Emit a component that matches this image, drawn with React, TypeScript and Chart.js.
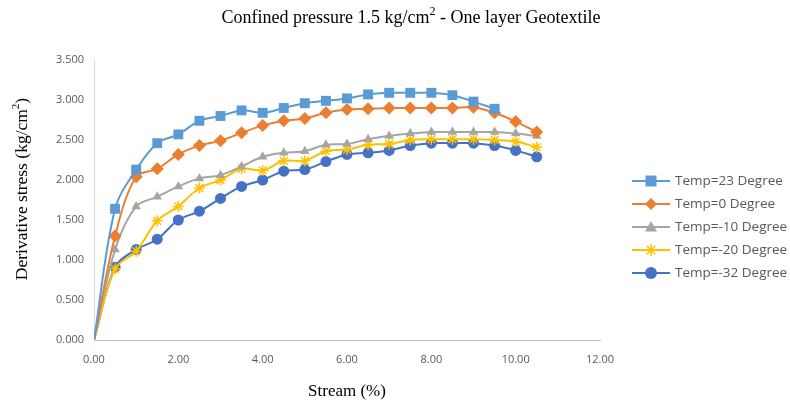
import React, { useEffect, useRef } from "react";
import { Chart, registerables } from "chart.js";

Chart.register(...registerables);

// Strain (%) values
const strain = [0, 0.5, 1, 1.5, 2, 2.5, 3, 3.5, 4, 4.5, 5, 5.5, 6, 6.5, 7, 7.5, 8, 8.5, 9, 9.5, 10, 10.5];

// Derivative stress (kg/cm2)
const temp23 = [0, 1.64, 2.13, 2.46, 2.57, 2.74, 2.8, 2.87, 2.84, 2.9, 2.96, 2.99, 3.02, 3.07, 3.09, 3.09, 3.09, 3.06, 2.98, 2.89];
const temp0 = [0, 1.3, 2.04, 2.14, 2.32, 2.43, 2.49, 2.59, 2.68, 2.74, 2.77, 2.84, 2.88, 2.89, 2.9, 2.9, 2.9, 2.9, 2.91, 2.84, 2.73, 2.6];
const tempM10 = [0, 1.13, 1.67, 1.79, 1.92, 2.02, 2.06, 2.17, 2.29, 2.34, 2.36, 2.44, 2.45, 2.51, 2.55, 2.58, 2.6, 2.6, 2.6, 2.6, 2.58, 2.55];
const tempM20 = [0, 0.89, 1.11, 1.49, 1.67, 1.9, 2.0, 2.14, 2.12, 2.24, 2.24, 2.36, 2.38, 2.44, 2.45, 2.5, 2.51, 2.51, 2.51, 2.5, 2.48, 2.41];
const tempM32 = [0, 0.91, 1.13, 1.26, 1.5, 1.61, 1.77, 1.92, 2.0, 2.11, 2.13, 2.23, 2.32, 2.34, 2.37, 2.43, 2.46, 2.46, 2.46, 2.43, 2.37, 2.29];

const seriesLabels = ["Temp=23 Degree", "Temp=0 Degree", "Temp=-10 Degree", "Temp=-20 Degree", "Temp=-32 Degree"];
const seriesValues = [temp23, temp0, tempM10, tempM20, tempM32];
const seriesColors = ["#5B9BD5", "#ED7D31", "#A5A5A5", "#FFC000", "#4472C4"];
const seriesMarkers = ["rect", "rectRot", "triangle", "star", "circle"];
const pointRadius = [7, 6.5, 5.5, 5.5, 5.5];
const legendRadius = [5.5, 6, 6, 6, 6];

const yTickValues = [0, 0.5, 1, 1.5, 2, 2.5, 3, 3.5];
const xTickValues = [0, 2, 4, 6, 8, 10, 12];

const TITLE_A = "Confined pressure 1.5 kg/cm";
const TITLE_B = " - One layer Geotextile";
const YTITLE_A = "Derivative stress (kg/cm";
const YTITLE_B = ")";
const XTITLE = "Stream (%)";

const SERIF = '"Liberation Serif", "Times New Roman", serif';
const SANS = '"Open Sans", sans-serif';
const TEXT_GRAY = "#595959";

function drawSup(ctx: CanvasRenderingContext2D, a: string, sup: string, b: string, cx: number, cy: number, size: number) {
  const mainFont = `${size}px ${SERIF}`;
  const supFont = `${Math.round(size * 0.65)}px ${SERIF}`;
  ctx.font = mainFont;
  const wa = ctx.measureText(a).width;
  const wb = ctx.measureText(b).width;
  ctx.font = supFont;
  const ws = ctx.measureText(sup).width;
  let x = cx - (wa + ws + wb) / 2;
  ctx.textBaseline = "middle";
  ctx.textAlign = "left";
  ctx.font = mainFont;
  ctx.fillText(a, x, cy);
  x += wa;
  ctx.font = supFont;
  ctx.fillText(sup, x, cy - size * 0.33);
  x += ws;
  ctx.font = mainFont;
  ctx.fillText(b, x, cy);
}

function drawMarker(ctx: CanvasRenderingContext2D, style: string, x: number, y: number, r: number, color: string) {
  ctx.save();
  ctx.fillStyle = color;
  ctx.strokeStyle = color;
  ctx.lineWidth = 1.5;
  ctx.beginPath();
  if (style === "rect") {
    ctx.rect(x - r, y - r, 2 * r, 2 * r);
    ctx.fill();
  } else if (style === "rectRot") {
    ctx.moveTo(x, y - r);
    ctx.lineTo(x + r, y);
    ctx.lineTo(x, y + r);
    ctx.lineTo(x - r, y);
    ctx.closePath();
    ctx.fill();
  } else if (style === "triangle") {
    ctx.moveTo(x, y - r);
    ctx.lineTo(x + r, y + r * 0.75);
    ctx.lineTo(x - r, y + r * 0.75);
    ctx.closePath();
    ctx.fill();
  } else if (style === "star") {
    for (let i = 0; i < 4; i++) {
      const ang = (Math.PI / 4) * i;
      ctx.moveTo(x + Math.sin(ang) * r, y - Math.cos(ang) * r);
      ctx.lineTo(x - Math.sin(ang) * r, y + Math.cos(ang) * r);
    }
    ctx.stroke();
  } else {
    ctx.arc(x, y, r, 0, Math.PI * 2);
    ctx.fill();
  }
  ctx.restore();
}

const textPlugin = {
  id: "textPlugin",
  afterDraw(chart: any) {
    const ctx: CanvasRenderingContext2D = chart.ctx;
    ctx.save();
    ctx.fillStyle = "#000000";
    drawSup(ctx, TITLE_A, "2", TITLE_B, 411, 18, 18);

    // x title
    ctx.font = `17px ${SERIF}`;
    ctx.textAlign = "center";
    ctx.textBaseline = "middle";
    ctx.fillText(XTITLE, (chart.chartArea.left + chart.chartArea.right) / 2, 392);

    // y title
    ctx.save();
    ctx.translate(22, 189);
    ctx.rotate(-Math.PI / 2);
    drawSup(ctx, YTITLE_A, "2", YTITLE_B, 0, 0, 17.5);
    ctx.restore();

    // legend
    const rows = [181, 204, 227, 250, 273];
    seriesLabels.forEach((label, i) => {
      const y = rows[i];
      ctx.strokeStyle = seriesColors[i];
      ctx.lineWidth = 2;
      ctx.beginPath();
      ctx.moveTo(632, y);
      ctx.lineTo(670, y);
      ctx.stroke();
      drawMarker(ctx, seriesMarkers[i], 651, y, legendRadius[i], seriesColors[i]);
      ctx.fillStyle = TEXT_GRAY;
      ctx.font = `13.5px ${SANS}`;
      ctx.textAlign = "left";
      ctx.textBaseline = "middle";
      ctx.fillText(label, 675, y);
    });
    ctx.restore();
  },
};

export default function App() {
  const canvasRef = useRef<HTMLCanvasElement | null>(null);

  useEffect(() => {
    if (!canvasRef.current) return;
    const datasets = seriesLabels.map((label, i) => ({
      label,
      data: seriesValues[i].map((v, j) => ({ x: strain[j], y: v })),
      borderColor: seriesColors[i],
      backgroundColor: seriesColors[i],
      borderWidth: 2,
      pointStyle: seriesMarkers[i],
      pointRadius: (c: any) => (c.dataIndex === 0 ? 0 : pointRadius[i]),
      pointBorderWidth: seriesMarkers[i] === "star" ? 1.5 : 0,
      pointBorderColor: seriesColors[i],
      pointBackgroundColor: seriesColors[i],
      tension: 0.35,
      fill: false,
    }));

    const chart = new Chart(canvasRef.current, {
      type: "line",
      data: { datasets },
      options: {
        animation: false,
        responsive: false,
        layout: { padding: { top: 60, right: 190, left: 0, bottom: 0 } },
        plugins: {
          legend: { display: false },
          title: { display: false },
          tooltip: { enabled: false },
        },
        scales: {
          x: {
            type: "linear",
            min: 0,
            max: 12,
            afterFit: (s: any) => {
              s.height = 66;
            },
            afterBuildTicks: (s: any) => {
              s.ticks = xTickValues.map((v) => ({ value: v }));
            },
            grid: { display: false, drawTicks: false },
            border: { display: true, color: "#BFBFBF", width: 1 },
            ticks: {
              padding: 13,
              color: TEXT_GRAY,
              font: { family: SANS, size: 11 },
              maxRotation: 0,
              callback: (v: any) => Number(v).toFixed(2),
            },
          },
          y: {
            type: "linear",
            min: 0,
            max: 3.5,
            afterFit: (s: any) => {
              s.width = 94;
            },
            afterBuildTicks: (s: any) => {
              s.ticks = yTickValues.map((v) => ({ value: v }));
            },
            grid: { display: false, drawTicks: false },
            border: { display: true, color: "#D9D9D9", width: 1 },
            ticks: {
              padding: 10,
              color: TEXT_GRAY,
              font: { family: SANS, size: 11 },
              callback: (v: any) => Number(v).toFixed(3),
            },
          },
        },
      },
      plugins: [textPlugin],
    } as any);
    return () => chart.destroy();
  }, []);

  return (
    <div style={{ position: "absolute", left: 0, top: 0, width: 790, height: 406, background: "#ffffff" }}>
      <canvas ref={canvasRef} width={790} height={406} style={{ display: "block" }} />
    </div>
  );
}
